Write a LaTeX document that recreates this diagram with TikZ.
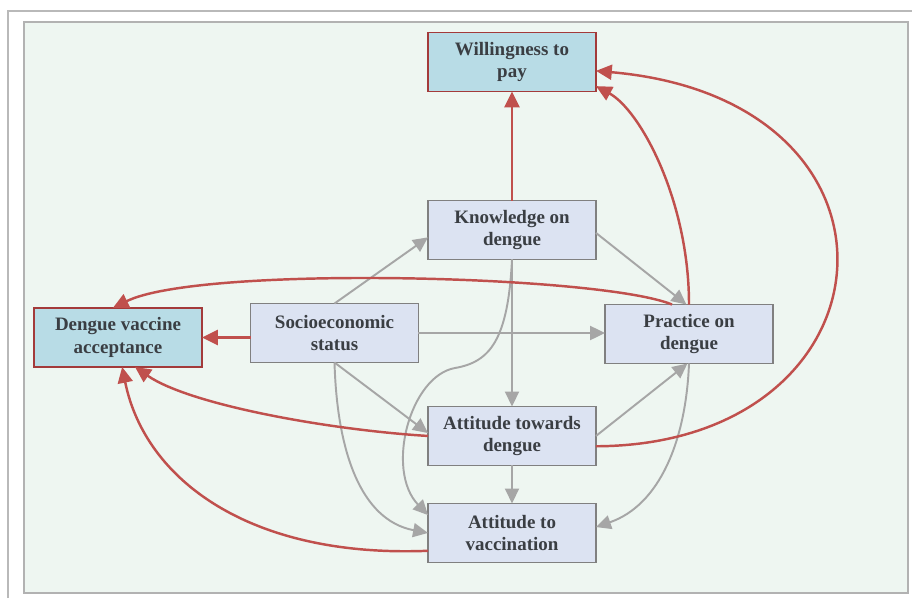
\documentclass[tikz,border=0pt]{standalone}
\usepackage{fontspec}
\setmainfont{Liberation Serif}
\usetikzlibrary{positioning,arrows.meta}
\usepackage{xcolor}
\definecolor{panelbg}{HTML}{EEF6F1}
\definecolor{outcomebg}{HTML}{B8DCE6}
\definecolor{factorbg}{HTML}{DCE3F2}
\definecolor{pathred}{HTML}{C0504D}
\definecolor{pathgray}{HTML}{A6A6A6}
\definecolor{boxred}{HTML}{A33A3A}
\definecolor{boxgray}{HTML}{808080}
\definecolor{textgray}{HTML}{3A3E43}

\begin{document}
\begin{tikzpicture}[
    x=0.02cm, y=-0.02cm,
 factor/.style = {
        draw=boxgray, fill=factorbg, rectangle, align=center,
        minimum width=3.36cm, minimum height=1.18cm,
        font=\fontsize{10.8}{13}\selectfont\bfseries, text=textgray,
        inner sep=0pt, outer sep=0pt, line width=0.8pt},
 outcome/.style = {
        factor, draw=boxred, fill=outcomebg},
 redpath/.style = {draw=pathred, line width=1.4pt,
        -{Triangle[length=9pt,width=8.5pt]}},
 graypath/.style = {draw=pathgray, line width=1.1pt,
        -{Triangle[length=8.5pt,width=8pt]}}
                    ]
\useasboundingbox (0,0) rectangle (912,598);
% frame and panel
\draw[gray!55, line width=0.6pt] (8,598) -- (8,11) -- (912,11);
\draw[gray!60, fill=panelbg, line width=1.1pt] (24,22) rectangle (908,593);

% the nodes
\node (know)  [factor]  at (512,230)   {Knowledge on\\dengue};
\node (wtp)   [outcome,above=2.18cm of know] {Willingness to\\pay};
\node (att)   [factor,below=2.94cm of know]  {Attitude towards\\dengue};
\node (vacc)  [factor,below=0.76cm of att]   {Attitude to\\vaccination};
\node (socio) [factor]  at (334.5,333) {Socioeconomic\\status};
\node (prac)  [factor]  at (689,334)   {Practice on\\dengue};
\node (dva)   [outcome] at (118,337.5) {Dengue vaccine\\acceptance};

% grey paths
\draw[graypath] (socio.north) -- (know.-175);
\draw[graypath] (socio.east) -- (socio.east -| prac.west);
\draw[graypath] (socio.south) -- (att.178);
\draw[graypath] (socio.south) .. controls (337,450) and (360,520) .. (vacc.west);
\draw[graypath] (know.south) -- (att.north);
\draw[graypath] (know.south) .. controls (508,340) and (490,362) .. (455,368)
                .. controls (410,376) and (385,470) .. (vacc.168);
\draw[graypath] (know.-2) -- (prac.95);
\draw[graypath] (att.east) -- (prac.-93);
\draw[graypath] (prac.-90) .. controls (686,440) and (660,505) .. (vacc.4);
\draw[graypath] (att.south) -- (vacc.north);

% red paths
\draw[redpath] (know.north) -- (wtp.south);
\draw[redpath] (socio.west |- dva.east) -- (dva.east);
\draw[redpath] (prac.north) .. controls (689,200) and (640,110) .. (wtp.-16);
\draw[redpath] (att.-7) .. controls (900,445) and (930,100) .. (wtp.-6.5);
\draw[redpath] (prac.120) .. controls (600,275) and (200,265) .. (dva.100);
\draw[redpath] (att.west) .. controls (330,430) and (190,405) .. (dva.-60);
\draw[redpath] (vacc.-168) .. controls (250,558) and (145,480) .. (dva.-82);
\end{tikzpicture}
\end{document}
